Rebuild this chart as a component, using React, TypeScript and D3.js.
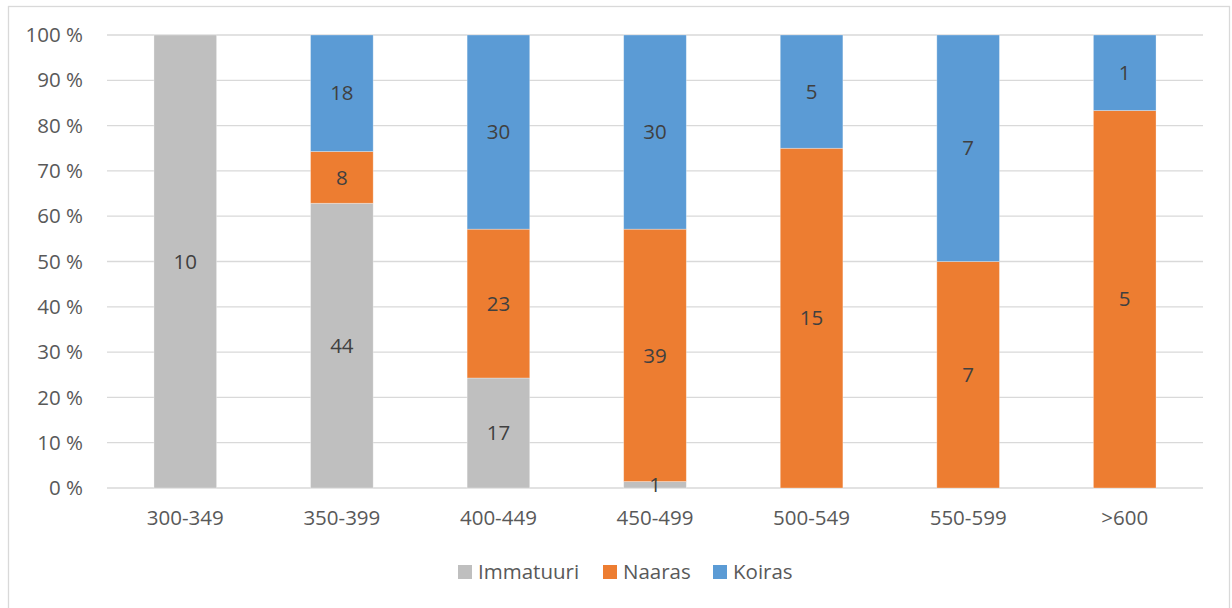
import React from "react";
import * as d3 from "d3";

const categories = ["300-349", "350-399", "400-449", "450-499", "500-549", "550-599", ">600"];
const seriesNames = ["Immatuuri", "Naaras", "Koiras"];
const immatuuri = [10, 44, 17, 1, 0, 0, 0];
const naaras = [0, 8, 23, 39, 15, 7, 5];
const koiras = [0, 18, 30, 30, 5, 7, 1];
const colors = ["#bfbfbf", "#ed7d31", "#5b9bd5"];
const yTicks = [0, 0.1, 0.2, 0.3, 0.4, 0.5, 0.6, 0.7, 0.8, 0.9, 1];

const W = 1232;
const H = 608;
const left = 107;
const right = 1203;
const top = 35;
const bottom = 488;
const FONT = "'Open Sans', 'Liberation Sans', sans-serif";
const FS = 20.5;

export default function App() {
  const x = d3.scaleBand<string>().domain(categories).range([left, right]).paddingInner(0.6).paddingOuter(0.3);
  const y = d3.scaleLinear().domain([0, 1]).range([bottom, top]);
  const table = categories.map((c, i) => ({ cat: c, Immatuuri: immatuuri[i], Naaras: naaras[i], Koiras: koiras[i] }));
  const stack = d3.stack<any>().keys(seriesNames).offset(d3.stackOffsetExpand);
  const layers = stack(table);

  const legendItems = [
    { name: "Immatuuri", sq: 458, tx: 478 },
    { name: "Naaras", sq: 603, tx: 623 },
    { name: "Koiras", sq: 713, tx: 733 },
  ];

  return (
    <svg width={W} height={H} style={{ position: "absolute", left: 0, top: 0, background: "#fff" }}>
      <rect x={0} y={0} width={W} height={H} fill="#fff" />
      <rect x={8.5} y={6.5} width={1221} height={620} fill="#fff" stroke="#d9d9d9" strokeWidth={1.3} />
      {yTicks.map((t) => (
        <g key={t}>
          <line x1={left} x2={right} y1={y(t)} y2={y(t)} stroke="#d9d9d9" strokeWidth={1.3} />
          <text x={83} y={y(t)} dy="0.35em" textAnchor="end" fontFamily={FONT} fontSize={FS} fill="#595959">
            {Math.round(t * 100) + " %"}
          </text>
        </g>
      ))}
      {layers.map((layer, si) =>
        layer.map((d, i) => {
          const v = (table[i] as any)[seriesNames[si]];
          if (!v) return null;
          const bx = x(categories[i])!;
          const y0 = y(d[0]);
          const y1 = y(d[1]);
          return (
            <rect key={si + "-" + i} x={bx} y={y1} width={x.bandwidth()} height={y0 - y1} fill={colors[si]} stroke="#ffffff" strokeOpacity={0.4} strokeWidth={0.75} />
          );
        })
      )}
      {layers.map((layer, si) =>
        layer.map((d, i) => {
          const v = (table[i] as any)[seriesNames[si]];
          if (!v) return null;
          const bx = x(categories[i])!;
          const y0 = y(d[0]);
          const y1 = y(d[1]);
          return (
            <text
              key={"t" + si + "-" + i}
              x={bx + x.bandwidth() / 2}
              y={(y0 + y1) / 2}
              dy="0.35em"
              textAnchor="middle"
              fontFamily={FONT}
              fontSize={FS}
              fill="#404040"
            >
              {v}
            </text>
          );
        })
      )}
      {categories.map((c) => (
        <text key={c} x={x(c)! + x.bandwidth() / 2} y={518} dy="0.35em" textAnchor="middle" fontFamily={FONT} fontSize={FS} fill="#595959">
          {c}
        </text>
      ))}
      {legendItems.map((l, i) => (
        <g key={l.name}>
          <rect x={l.sq} y={565} width={14} height={14} fill={colors[i]} />
          <text x={l.tx} y={572} dy="0.35em" fontFamily={FONT} fontSize={FS} fill="#595959">
            {l.name}
          </text>
        </g>
      ))}
    </svg>
  );
}
